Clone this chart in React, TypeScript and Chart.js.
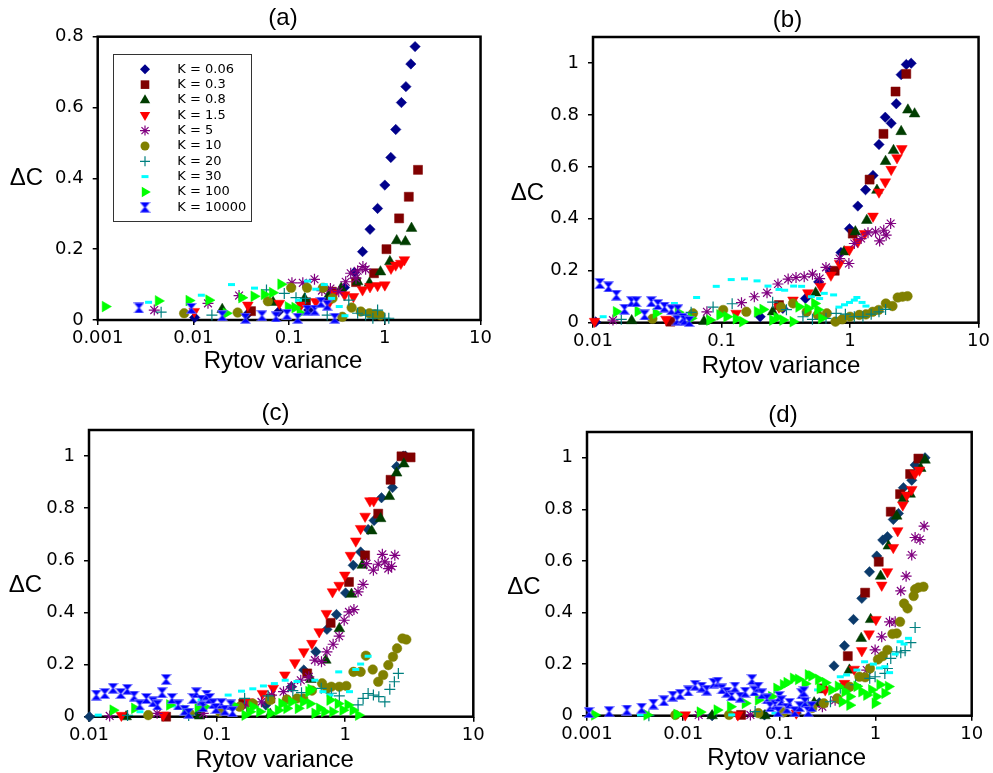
import React, { useEffect, useRef } from 'react';
import { Chart, registerables } from 'chart.js';

Chart.register(...registerables);

// ---------- labels ----------
const K_LABELS = ['K = 0.06', 'K = 0.3', 'K = 0.8', 'K = 1.5', 'K = 5', 'K = 10', 'K = 20', 'K = 30', 'K = 100', 'K = 10000'];
const X_TICKS_3 = [0.001, 0.01, 0.1, 1, 10];
const X_LABELS_3 = ['0.001', '0.01', '0.1', '1', '10'];
const X_TICKS_2 = [0.01, 0.1, 1, 10];
const X_LABELS_2 = ['0.01', '0.1', '1', '10'];
const Y_TICKS_A = [0, 0.2, 0.4, 0.6, 0.8];
const Y_LABELS_A = ['0', '0.2', '0.4', '0.6', '0.8'];
const Y_TICKS_B = [0, 0.2, 0.4, 0.6, 0.8, 1];
const Y_LABELS_B = ['0', '0.2', '0.4', '0.6', '0.8', '1'];

// ---------- panel (a) ----------
const aX_K006 = [0.0103, 0.036, 0.078, 0.16, 0.26, 0.38, 0.48, 0.585, 0.70, 0.84, 1.0, 1.155, 1.30, 1.49, 1.66, 1.87, 2.07];
const aY_K006 = [0.007, 0.014, 0.024, 0.028, 0.06, 0.092, 0.134, 0.193, 0.256, 0.315, 0.381, 0.459, 0.538, 0.614, 0.659, 0.723, 0.772];
const aX_K03 = [0.04, 0.15, 0.28, 0.5, 0.77, 1.04, 1.41, 1.78, 2.22];
const aY_K03 = [0.025, 0.05, 0.08, 0.107, 0.132, 0.2, 0.287, 0.348, 0.424];
const aX_K08 = [0.02, 0.068, 0.145, 0.26, 0.35, 0.52, 0.69, 0.9, 1.13, 1.33, 1.64, 1.9];
const aY_K08 = [0.03, 0.05, 0.06, 0.07, 0.09, 0.108, 0.104, 0.136, 0.165, 0.224, 0.221, 0.259];
const aX_K15 = [0.0102, 0.037, 0.079, 0.133, 0.19, 0.26, 0.30, 0.38, 0.47, 0.585, 0.70, 0.84, 1.0, 1.16, 1.3, 1.47, 1.6];
const aY_K15 = [0.024, 0.042, 0.047, 0.042, 0.052, 0.047, 0.075, 0.071, 0.066, 0.085, 0.094, 0.097, 0.099, 0.146, 0.155, 0.16, 0.17];
const aX_K5 = [0.0039, 0.0142, 0.030, 0.107, 0.139, 0.184, 0.22, 0.27, 0.33, 0.39, 0.44, 0.50, 0.52, 0.59, 0.63];
const aY_K5 = [0.028, 0.047, 0.069, 0.105, 0.105, 0.115, 0.083, 0.089, 0.08, 0.108, 0.132, 0.118, 0.139, 0.151, 0.143];
const aX_K10 = [0.008, 0.029, 0.06, 0.105, 0.154, 0.226, 0.284, 0.36, 0.45, 0.56, 0.69, 0.79, 0.9];
const aY_K10 = [0.019, 0.021, 0.053, 0.091, 0.091, 0.091, 0.061, 0.009, 0.035, 0.024, 0.019, 0.016, 0.013];
const aX_K20 = [0.0046, 0.0156, 0.058, 0.089, 0.118, 0.148, 0.25, 0.42, 0.52, 0.63, 0.75, 0.84, 1.0, 1.1];
const aY_K20 = [0.022, 0.014, 0.085, 0.075, 0.063, 0.061, 0.014, 0.056, 0.019, 0.014, 0.005, 0.028, 0.005, 0.005];
const aX_K30 = [0.0034, 0.0121, 0.025, 0.0435, 0.125, 0.156, 0.19, 0.233, 0.278, 0.334, 0.383];
const aY_K30 = [0.05, 0.07, 0.10, 0.09, 0.056, 0.11, 0.087, 0.10, 0.061, 0.038, 0.012];
const aX_K100 = [0.0012, 0.0043, 0.009, 0.0145, 0.022, 0.032, 0.043, 0.055, 0.067, 0.082, 0.098, 0.115, 0.13];
const aY_K100 = [0.038, 0.054, 0.055, 0.056, 0.019, 0.063, 0.067, 0.072, 0.077, 0.101, 0.037, 0.035, 0.02];
const aX_K10000 = [0.0027, 0.0095, 0.02, 0.035, 0.052, 0.073, 0.095, 0.123, 0.155, 0.185, 0.215, 0.25, 0.3];
const aY_K10000 = [0.034, 0.033, 0.012, 0.005, 0.012, 0.009, 0.016, 0.005, 0.028, 0.028, 0.05, 0.042, 0.005];

// ---------- panel (b) ----------
const bX_K006 = [0.0105, 0.2, 0.3, 0.45, 0.57, 0.7, 0.85, 0.99, 1.15, 1.32, 1.51, 1.68, 1.88, 2.09, 2.29, 2.5, 2.74, 2.99];
const bY_K006 = [0.003, 0.023, 0.055, 0.093, 0.157, 0.2, 0.27, 0.362, 0.449, 0.512, 0.567, 0.686, 0.791, 0.768, 0.843, 0.955, 0.994, 0.999];
const bX_K03 = [0.04, 0.28, 0.76, 1.05, 1.42, 1.82, 2.26, 2.74];
const bY_K03 = [0.004, 0.068, 0.2, 0.343, 0.551, 0.727, 0.89, 0.958];
const bX_K08 = [0.02, 0.073, 0.25, 0.54, 0.9, 1.1, 1.35, 1.62, 1.89, 2.18, 2.5, 2.82, 3.18];
const bY_K08 = [0.008, 0.005, 0.042, 0.115, 0.273, 0.35, 0.394, 0.51, 0.621, 0.663, 0.736, 0.819, 0.804];
const bX_K15 = [0.0103, 0.037, 0.13, 0.28, 0.36, 0.47, 0.59, 0.71, 0.83, 0.99, 1.15, 1.3, 1.51, 1.68, 1.88, 2.09, 2.32, 2.53];
const bY_K15 = [0.005, 0.013, 0.036, 0.06, 0.087, 0.115, 0.14, 0.183, 0.228, 0.282, 0.311, 0.343, 0.41, 0.503, 0.542, 0.59, 0.635, 0.67];
const bX_K5 = [0.0143, 0.077, 0.143, 0.18, 0.226, 0.275, 0.33, 0.38, 0.44, 0.51, 0.58, 0.65, 0.83, 0.98, 1.08, 1.22, 1.38, 1.58, 1.7, 1.83, 1.91, 2.07];
const bY_K5 = [0.01, 0.042, 0.077, 0.1, 0.115, 0.149, 0.168, 0.174, 0.177, 0.187, 0.17, 0.213, 0.247, 0.228, 0.305, 0.324, 0.346, 0.35, 0.315, 0.356, 0.337, 0.382];
const bX_K10 = [0.029, 0.06, 0.103, 0.156, 0.29, 0.36, 0.46, 0.56, 0.66, 0.77, 0.87, 1.0, 1.18, 1.33, 1.5, 1.67, 1.9, 2.14, 2.35, 2.56, 2.8];
const bY_K10 = [0.015, 0.036, 0.049, 0.042, 0.06, 0.074, 0.042, 0.03, 0.036, 0.004, 0.013, 0.023, 0.03, 0.032, 0.042, 0.049, 0.074, 0.064, 0.097, 0.1, 0.102];
const bX_K20 = [0.0166, 0.058, 0.086, 0.121, 0.25, 0.32, 0.43, 0.51, 0.65, 0.78, 0.92, 1.08, 1.26, 1.46, 1.68, 1.89];
const bY_K20 = [0.013, 0.04, 0.06, 0.073, 0.079, 0.05, 0.023, 0.013, 0.017, 0.036, 0.033, 0.023, 0.023, 0.033, 0.042, 0.051];
const bX_K30 = [0.012, 0.043, 0.064, 0.091, 0.119, 0.151, 0.189, 0.23, 0.28, 0.31, 0.364, 0.42, 0.5, 0.58, 0.63, 0.745, 0.82, 0.906, 0.99, 1.08, 1.13, 1.24, 1.33];
const bY_K30 = [0.023, 0.074, 0.097, 0.14, 0.166, 0.169, 0.161, 0.141, 0.128, 0.125, 0.141, 0.14, 0.1, 0.093, 0.113, 0.107, 0.06, 0.069, 0.078, 0.087, 0.097, 0.078, 0.064];
const bX_K100 = [0.0152, 0.0224, 0.031, 0.046, 0.058, 0.081, 0.097, 0.11, 0.13, 0.146, 0.19, 0.21, 0.25, 0.27, 0.3, 0.36, 0.4, 0.47, 0.53, 0.56, 0.6];
const bY_K100 = [0.042, 0.044, 0.036, 0.04, 0.017, 0.01, 0.03, 0.023, 0.015, 0.004, 0.042, 0.051, 0.01, 0.02, 0.01, 0.004, 0.061, 0.055, 0.074, 0.05, 0.017];
const bX_K10000 = [0.0113, 0.0132, 0.0152, 0.0176, 0.0199, 0.0217, 0.0252, 0.0284, 0.032, 0.036, 0.0407, 0.045, 0.0458, 0.05, 0.0516, 0.056];
const bY_K10000 = [0.151, 0.138, 0.106, 0.052, 0.081, 0.081, 0.03, 0.081, 0.07, 0.06, 0.05, 0.01, 0.05, 0.017, 0.01, 0.005];

// ---------- panel (c) ----------
const cX_K006 = [0.0101, 0.072, 0.24, 0.38, 0.475, 0.59, 0.72, 0.855, 1.007, 1.155, 1.32, 1.51, 1.68, 1.92, 2.34, 2.52, 2.84, 2.95];
const cY_K006 = [0.0, 0.012, 0.045, 0.115, 0.179, 0.249, 0.335, 0.392, 0.475, 0.581, 0.632, 0.718, 0.753, 0.84, 0.879, 0.96, 1.0, 1.0];
const cX_K03 = [0.04, 0.16, 0.26, 0.505, 0.77, 1.07, 1.43, 1.81, 2.26, 2.75, 3.24];
const cY_K03 = [0.0, 0.05, 0.07, 0.166, 0.36, 0.517, 0.619, 0.779, 0.909, 0.999, 0.995];
const cX_K08 = [0.0195, 0.073, 0.26, 0.54, 0.706, 0.9, 1.12, 1.36, 1.61, 1.89, 2.21, 2.52, 2.87];
const cY_K08 = [0.0, 0.003, 0.01, 0.143, 0.217, 0.338, 0.47, 0.581, 0.713, 0.76, 0.845, 0.935, 0.97];
const cX_K15 = [0.0179, 0.038, 0.175, 0.226, 0.274, 0.338, 0.405, 0.475, 0.55, 0.627, 0.714, 0.796, 0.897, 0.993, 1.10, 1.21, 1.32, 1.43, 1.56, 1.67];
const cY_K15 = [0.005, 0.006, 0.057, 0.089, 0.109, 0.16, 0.207, 0.249, 0.281, 0.326, 0.396, 0.479, 0.504, 0.543, 0.619, 0.674, 0.722, 0.769, 0.828, 0.828];
const cX_K5 = [0.0145, 0.034, 0.078, 0.17, 0.222, 0.266, 0.33, 0.38, 0.45, 0.52, 0.58, 0.653, 0.72, 0.805, 0.897, 0.982, 1.07, 1.17, 1.26, 1.38, 1.47, 1.66, 1.81, 1.95, 2.04, 2.17, 2.3, 2.44];
const cY_K5 = [0.003, 0.013, 0.013, 0.04, 0.057, 0.083, 0.096, 0.115, 0.14, 0.153, 0.217, 0.211, 0.249, 0.278, 0.309, 0.37, 0.402, 0.411, 0.479, 0.508, 0.587, 0.562, 0.585, 0.623, 0.594, 0.568, 0.577, 0.619];
const cX_K10 = [0.029, 0.061, 0.105, 0.15, 0.19, 0.26, 0.35, 0.42, 0.47, 0.55, 0.66, 0.72, 0.78, 0.9, 1.02, 1.16, 1.32, 1.45, 1.64, 1.81, 1.98, 2.17, 2.36, 2.54, 2.8, 3.0];
const cY_K10 = [0.006, 0.013, 0.019, 0.038, 0.05, 0.064, 0.066, 0.07, 0.07, 0.1, 0.128, 0.108, 0.115, 0.115, 0.118, 0.172, 0.172, 0.234, 0.181, 0.134, 0.16, 0.198, 0.23, 0.262, 0.3, 0.296];
const cX_K20 = [0.02, 0.06, 0.164, 0.25, 0.39, 0.456, 0.65, 0.78, 0.9, 1.26, 1.38, 1.51, 1.66, 1.83, 2.04, 2.23, 2.42, 2.6];
const cY_K20 = [0.005, 0.005, 0.07, 0.08, 0.1, 0.092, 0.109, 0.09, 0.08, 0.045, 0.07, 0.089, 0.083, 0.077, 0.057, 0.105, 0.134, 0.166];
const cX_K30 = [0.0118, 0.025, 0.045, 0.075, 0.122, 0.155, 0.19, 0.23, 0.28, 0.34, 0.42, 0.58, 0.67, 0.76, 0.89, 1.08, 1.21, 1.32, 1.51];
const cY_K30 = [0.006, 0.019, 0.041, 0.064, 0.083, 0.098, 0.107, 0.118, 0.127, 0.14, 0.135, 0.14, 0.096, 0.083, 0.172, 0.096, 0.181, 0.202, 0.232];
const cX_K100 = [0.0154, 0.0227, 0.0426, 0.057, 0.071, 0.08, 0.133, 0.165, 0.18, 0.19, 0.215, 0.26, 0.3, 0.32, 0.35, 0.38, 0.43, 0.47, 0.52, 0.53, 0.54, 0.58, 0.63, 0.69, 0.76, 0.8, 0.88, 0.96, 1.05, 1.15, 1.27];
const cY_K100 = [0.025, 0.032, 0.045, 0.025, 0.038, 0.038, 0.045, 0.006, 0.019, 0.038, 0.019, 0.013, 0.025, 0.05, 0.032, 0.057, 0.032, 0.057, 0.096, 0.05, 0.105, 0.013, 0.032, 0.019, 0.064, 0.019, 0.05, 0.025, 0.045, 0.025, 0.006];
const cX_K10000 = [0.0114, 0.0133, 0.0154, 0.0177, 0.0199, 0.0225, 0.0249, 0.028, 0.0316, 0.0342, 0.0372, 0.04, 0.0445, 0.0496, 0.0558, 0.06, 0.0648, 0.0688, 0.0755, 0.0776, 0.0826, 0.0876, 0.093, 0.098, 0.108, 0.115, 0.128, 0.132];
const cY_K10000 = [0.083, 0.089, 0.109, 0.089, 0.105, 0.079, 0.045, 0.07, 0.057, 0.045, 0.092, 0.143, 0.07, 0.045, 0.025, 0.013, 0.07, 0.092, 0.064, 0.038, 0.083, 0.07, 0.05, 0.032, 0.05, 0.025, 0.045, 0.019];

// ---------- panel (d) ----------
const dX_K006 = [0.02, 0.07, 0.15, 0.26, 0.37, 0.475, 0.59, 0.72, 0.865, 1.03, 1.19, 1.33, 1.53, 1.73, 1.95, 2.38, 2.58, 3.27];
const dY_K006 = [0.0, 0.003, 0.01, 0.05, 0.193, 0.271, 0.373, 0.455, 0.558, 0.619, 0.681, 0.694, 0.761, 0.784, 0.884, 0.913, 0.972, 1.0];
const dX_K03 = [0.04, 0.28, 0.515, 0.78, 1.08, 1.44, 1.8, 2.29, 2.79];
const dY_K03 = [0.003, 0.106, 0.231, 0.477, 0.597, 0.791, 0.859, 0.937, 0.997];
const dX_K08 = [0.02, 0.071, 0.23, 0.535, 0.71, 0.89, 1.13, 1.36, 1.66, 1.95, 2.29, 2.95, 3.27];
const dY_K08 = [0.0, 0.0, 0.05, 0.177, 0.3, 0.373, 0.541, 0.658, 0.774, 0.842, 0.859, 0.959, 0.991];
const dX_K15 = [0.0105, 0.037, 0.15, 0.3, 0.475, 0.6, 0.72, 0.857, 1.01, 1.16, 1.33, 1.53, 1.7, 1.92, 2.11, 2.38, 2.58, 2.86];
const dY_K15 = [0.003, 0.003, 0.01, 0.1, 0.125, 0.18, 0.252, 0.317, 0.373, 0.506, 0.558, 0.652, 0.717, 0.817, 0.855, 0.877, 0.939, 0.952];
const dX_K5 = [0.0145, 0.05, 0.28, 0.38, 0.81, 0.99, 1.16, 1.4, 1.6, 1.83, 2.08, 2.38, 2.58, 2.9, 3.2];
const dY_K5 = [0.003, 0.003, 0.035, 0.06, 0.177, 0.255, 0.306, 0.364, 0.364, 0.484, 0.541, 0.623, 0.691, 0.683, 0.735];
const dX_K10 = [0.0083, 0.03, 0.0605, 0.11, 0.22, 0.29, 0.4, 0.54, 0.68, 0.78, 0.875, 1.06, 1.19, 1.33, 1.5, 1.66, 1.8, 1.98, 2.15, 2.49, 2.58, 2.79, 3.15];
const dY_K10 = [0.003, 0.003, 0.01, 0.013, 0.03, 0.048, 0.067, 0.112, 0.151, 0.149, 0.183, 0.218, 0.231, 0.255, 0.317, 0.319, 0.364, 0.435, 0.416, 0.464, 0.49, 0.497, 0.5];
const dX_K20 = [0.0044, 0.056, 0.2, 0.34, 0.43, 0.62, 0.87, 0.99, 1.25, 1.33, 1.44, 1.66, 1.83, 2.03, 2.33, 2.58];
const dY_K20 = [0.0, 0.016, 0.05, 0.054, 0.106, 0.12, 0.145, 0.151, 0.164, 0.183, 0.222, 0.248, 0.244, 0.252, 0.283, 0.342];
const dX_K30 = [0.0036, 0.032, 0.09, 0.17, 0.25, 0.43, 0.5, 0.64, 0.77, 0.95, 1.1, 1.25, 1.4, 1.6, 1.8, 1.98, 2.2];
const dY_K30 = [0.003, 0.003, 0.01, 0.04, 0.1, 0.151, 0.158, 0.177, 0.209, 0.2, 0.185, 0.19, 0.167, 0.239, 0.287, 0.278, 0.3];
const dX_K100 = [0.0012, 0.0042, 0.0086, 0.015, 0.0225, 0.031, 0.0441, 0.0605, 0.083, 0.094, 0.11, 0.12, 0.14, 0.158, 0.185, 0.2, 0.217, 0.255, 0.265, 0.3, 0.35, 0.41, 0.45, 0.48, 0.54, 0.54, 0.64, 0.72, 0.81, 0.91, 0.99, 1.02, 1.11, 1.25, 1.36];
const dY_K100 = [0.003, 0.003, 0.005, 0.014, 0.022, 0.035, 0.048, 0.061, 0.074, 0.106, 0.12, 0.128, 0.145, 0.141, 0.124, 0.158, 0.154, 0.141, 0.106, 0.128, 0.1, 0.114, 0.054, 0.093, 0.074, 0.041, 0.114, 0.093, 0.08, 0.1, 0.048, 0.074, 0.12, 0.087, 0.113];
const dX_K10000 = [0.00105, 0.0017, 0.0026, 0.0037, 0.0049, 0.0063, 0.0078, 0.0093, 0.0113, 0.0133, 0.0156, 0.0176, 0.0207, 0.0229, 0.0253, 0.0284, 0.0319, 0.0345, 0.0391, 0.0441, 0.0519, 0.055, 0.0605, 0.066, 0.0742, 0.08, 0.09, 0.097, 0.1, 0.105, 0.12, 0.128, 0.145, 0.163, 0.17, 0.18, 0.185, 0.2, 0.217];
const dY_K10000 = [0.012, 0.016, 0.022, 0.029, 0.045, 0.058, 0.076, 0.083, 0.096, 0.118, 0.111, 0.099, 0.126, 0.13, 0.104, 0.091, 0.078, 0.111, 0.072, 0.091, 0.14, 0.096, 0.111, 0.085, 0.065, 0.035, 0.042, 0.016, 0.074, 0.058, 0.029, 0.048, 0.016, 0.035, 0.085, 0.093, 0.052, 0.016, 0.035];

// ---------- styles ----------
const COLORS_AB = ['#00008b', '#800000', '#003d00', '#ff0000', '#800080', '#808000', '#008080', '#00ffff', '#00ff00', '#0000ff'];
const COLORS_CD = ['#0b3a6b', '#800000', '#003d00', '#ff0000', '#800080', '#808000', '#008080', '#00ffff', '#00ff00', '#0000ff'];
const MARKERS = [
  { ps: 'rectRot', r: 5.2, rot: 0, bw: 0.5 },
  { ps: 'rect', r: 6.4, rot: 0, bw: 0.5 },
  { ps: 'triangle', r: 6.2, rot: 0, bw: 0.5 },
  { ps: 'triangle', r: 6.2, rot: 180, bw: 0.5 },
  { ps: 'star', r: 5.5, rot: 0, bw: 1.2 },
  { ps: 'circle', r: 4.8, rot: 0, bw: 0.5 },
  { ps: 'cross', r: 5.5, rot: 0, bw: 1.2 },
  { ps: 'line', r: 3.5, rot: 0, bw: 3 },
  { ps: 'triangle', r: 6.2, rot: 90, bw: 0.5 },
  { ps: 'hourglass', r: 5.5, rot: 0, bw: 0 },
];

let hourglassImg: HTMLCanvasElement | null = null;
function getHourglass(): HTMLCanvasElement {
  if (hourglassImg) return hourglassImg;
  const c = document.createElement('canvas');
  c.width = 11;
  c.height = 11;
  const g = c.getContext('2d')!;
  g.fillStyle = '#0000ff';
  g.strokeStyle = 'rgba(120,120,255,0.7)';
  g.lineWidth = 1;
  g.beginPath();
  g.moveTo(0.5, 0.5);
  g.lineTo(10.5, 0.5);
  g.lineTo(6.2, 5.5);
  g.lineTo(10.5, 10.5);
  g.lineTo(0.5, 10.5);
  g.lineTo(4.8, 5.5);
  g.closePath();
  g.fill();
  g.stroke();
  hourglassImg = c;
  return c;
}

function drawLegendMarker(ctx: CanvasRenderingContext2D, i: number, x: number, y: number, color: string) {
  ctx.save();
  ctx.fillStyle = color;
  ctx.strokeStyle = color;
  ctx.lineWidth = 1.2;
  ctx.beginPath();
  const r = 5;
  switch (i) {
    case 0:
      ctx.moveTo(x, y - r); ctx.lineTo(x + r, y); ctx.lineTo(x, y + r); ctx.lineTo(x - r, y); ctx.closePath(); ctx.fill();
      break;
    case 1:
      ctx.rect(x - 4.3, y - 4.3, 8.6, 8.6); ctx.fill();
      break;
    case 2:
      ctx.moveTo(x, y - 5.8); ctx.lineTo(x + 5.2, y + 3.2); ctx.lineTo(x - 5.2, y + 3.2); ctx.closePath(); ctx.fill();
      break;
    case 3:
      ctx.moveTo(x, y + 5.8); ctx.lineTo(x + 5.2, y - 3.2); ctx.lineTo(x - 5.2, y - 3.2); ctx.closePath(); ctx.fill();
      break;
    case 4:
      for (let k = 0; k < 4; k++) {
        const a = (k * Math.PI) / 4;
        ctx.moveTo(x - Math.cos(a) * r, y - Math.sin(a) * r);
        ctx.lineTo(x + Math.cos(a) * r, y + Math.sin(a) * r);
      }
      ctx.stroke();
      break;
    case 5:
      ctx.arc(x, y, 4.5, 0, Math.PI * 2); ctx.fill();
      break;
    case 6:
      ctx.moveTo(x - r, y); ctx.lineTo(x + r, y); ctx.moveTo(x, y - r); ctx.lineTo(x, y + r); ctx.stroke();
      break;
    case 7:
      ctx.lineWidth = 3; ctx.moveTo(x - 3.5, y); ctx.lineTo(x + 3.5, y); ctx.stroke();
      break;
    case 8:
      ctx.moveTo(x + 5.8, y); ctx.lineTo(x - 3.2, y - 5.2); ctx.lineTo(x - 3.2, y + 5.2); ctx.closePath(); ctx.fill();
      break;
    case 9: {
      const img = getHourglass();
      ctx.drawImage(img, x - img.width / 2, y - img.height / 2);
      break;
    }
  }
  ctx.restore();
}

type PanelCfg = {
  left: number; top: number; w: number; h: number;
  plot: { l: number; r: number; t: number; b: number };
  xMin: number; xMax: number; xTicks: number[]; xLabels: string[];
  yMax: number; yTicks: number[]; yLabels: string[];
  xs: number[][]; ys: number[][];
  colors: string[];
  title: string; titlePos: [number, number];
  xLabelPos: [number, number]; yLabelPos: [number, number];
  legend: boolean;
};

const PANELS: PanelCfg[] = [
  {
    left: 0, top: 0, w: 495, h: 390,
    plot: { l: 97.7, r: 481.7, t: 36.7, b: 320 },
    xMin: 0.001, xMax: 10, xTicks: X_TICKS_3, xLabels: X_LABELS_3,
    yMax: 0.8, yTicks: Y_TICKS_A, yLabels: Y_LABELS_A,
    xs: [aX_K006, aX_K03, aX_K08, aX_K15, aX_K5, aX_K10, aX_K20, aX_K30, aX_K100, aX_K10000],
    ys: [aY_K006, aY_K03, aY_K08, aY_K15, aY_K5, aY_K10, aY_K20, aY_K30, aY_K100, aY_K10000],
    colors: COLORS_AB,
    title: '(a)', titlePos: [283, 18], xLabelPos: [283, 361], yLabelPos: [26.5, 178], legend: true,
  },
  {
    left: 495, top: 0, w: 498, h: 390,
    plot: { l: 593, r: 979, t: 37, b: 322.7 },
    xMin: 0.01, xMax: 10, xTicks: X_TICKS_2, xLabels: X_LABELS_2,
    yMax: 1.1, yTicks: Y_TICKS_B, yLabels: Y_LABELS_B,
    xs: [bX_K006, bX_K03, bX_K08, bX_K15, bX_K5, bX_K10, bX_K20, bX_K30, bX_K100, bX_K10000],
    ys: [bY_K006, bY_K03, bY_K08, bY_K15, bY_K5, bY_K10, bY_K20, bY_K30, bY_K100, bY_K10000],
    colors: COLORS_AB,
    title: '(b)', titlePos: [787.5, 20], xLabelPos: [781, 366], yLabelPos: [527.5, 193.5], legend: false,
  },
  {
    left: 0, top: 390, w: 495, h: 383,
    plot: { l: 89, r: 473.3, t: 430, b: 716.7 },
    xMin: 0.01, xMax: 10, xTicks: X_TICKS_2, xLabels: X_LABELS_2,
    yMax: 1.1, yTicks: Y_TICKS_B, yLabels: Y_LABELS_B,
    xs: [cX_K006, cX_K03, cX_K08, cX_K15, cX_K5, cX_K10, cX_K20, cX_K30, cX_K100, cX_K10000],
    ys: [cY_K006, cY_K03, cY_K08, cY_K15, cY_K5, cY_K10, cY_K20, cY_K30, cY_K100, cY_K10000],
    colors: COLORS_CD,
    title: '(c)', titlePos: [275.5, 413], xLabelPos: [274.5, 760], yLabelPos: [25.5, 585], legend: false,
  },
  {
    left: 495, top: 390, w: 498, h: 383,
    plot: { l: 587, r: 971.7, t: 432, b: 715.7 },
    xMin: 0.001, xMax: 10, xTicks: X_TICKS_3, xLabels: X_LABELS_3,
    yMax: 1.1, yTicks: Y_TICKS_B, yLabels: Y_LABELS_B,
    xs: [dX_K006, dX_K03, dX_K08, dX_K15, dX_K5, dX_K10, dX_K20, dX_K30, dX_K100, dX_K10000],
    ys: [dY_K006, dY_K03, dY_K08, dY_K15, dY_K5, dY_K10, dY_K20, dY_K30, dY_K100, dY_K10000],
    colors: COLORS_CD,
    title: '(d)', titlePos: [783, 415], xLabelPos: [786.7, 758], yLabelPos: [524, 587.5], legend: false,
  },
];

const TICK_FONT = { family: '"DejaVu Sans", sans-serif', size: 18 };
const LABEL_FONT = '24px "Liberation Sans", Arial, sans-serif';

function Panel({ cfg }: { cfg: PanelCfg }) {
  const ref = useRef<HTMLCanvasElement>(null);
  useEffect(() => {
    const canvas = ref.current;
    if (!canvas) return;
    const hg = getHourglass();
    const datasets = cfg.xs.map((xs, i) => {
      const m = MARKERS[i];
      const color = cfg.colors[i];
      const n = Math.min(xs.length, cfg.ys[i].length);
      const data = [] as { x: number; y: number }[];
      for (let j = 0; j < n; j++) data.push({ x: xs[j], y: cfg.ys[i][j] });
      return {
        label: K_LABELS[i],
        data,
        showLine: false,
        pointStyle: m.ps === 'hourglass' ? hg : m.ps,
        pointRadius: m.r,
        pointHoverRadius: m.r,
        pointRotation: m.rot,
        pointBackgroundColor: color,
        pointBorderColor: color,
        pointBorderWidth: m.bw,
        backgroundColor: color,
        borderColor: color,
        order: 9 - i,
        clip: false as any,
      };
    });

    const offX = cfg.left;
    const offY = cfg.top;
    const overlay = {
      id: 'overlay',
      beforeDatasetsDraw(chart: any) {
        const { ctx, chartArea: ca } = chart;
        ctx.save();
        ctx.strokeStyle = '#000';
        ctx.lineWidth = 2.5;
        ctx.strokeRect(ca.left, ca.top, ca.right - ca.left, ca.bottom - ca.top);
        ctx.restore();
      },
      afterDraw(chart: any) {
        const ctx = chart.ctx as CanvasRenderingContext2D;
        ctx.save();
        ctx.fillStyle = '#000';
        ctx.font = LABEL_FONT;
        ctx.textAlign = 'center';
        ctx.textBaseline = 'middle';
        ctx.fillText(cfg.title, cfg.titlePos[0] - offX, cfg.titlePos[1] - offY);
        ctx.fillText('Rytov variance', cfg.xLabelPos[0] - offX, cfg.xLabelPos[1] - offY);
        ctx.fillText('ΔC', cfg.yLabelPos[0] - offX, cfg.yLabelPos[1] - offY);
        if (cfg.legend) {
          ctx.fillStyle = '#fff';
          ctx.fillRect(113.5 - offX, 54.5 - offY, 138, 167);
          ctx.strokeStyle = '#333';
          ctx.lineWidth = 1;
          ctx.strokeRect(113.5 - offX, 54.5 - offY, 138, 167);
          ctx.font = '13px "DejaVu Sans", sans-serif';
          ctx.textAlign = 'left';
          ctx.textBaseline = 'middle';
          for (let i = 0; i < K_LABELS.length; i++) {
            const yy = 69.3 + i * 15.33 - offY;
            drawLegendMarker(ctx, i, 145 - offX, yy, cfg.colors[i]);
            ctx.fillStyle = '#000';
            ctx.fillText(K_LABELS[i], 177.3 - offX, yy);
          }
        }
        ctx.restore();
      },
    };

    const yAxisW = cfg.plot.l - cfg.left;
    const xAxisH = cfg.top + cfg.h - cfg.plot.b;
    const chart = new Chart(canvas, {
      type: 'scatter',
      data: { datasets: datasets as any },
      options: {
        responsive: false,
        animation: false,
        events: [],
        layout: {
          padding: {
            top: cfg.plot.t - cfg.top,
            right: cfg.left + cfg.w - cfg.plot.r,
            left: 0,
            bottom: 0,
          },
        },
        plugins: {
          legend: { display: false },
          tooltip: { enabled: false },
          title: { display: false },
        },
        scales: {
          x: {
            type: 'logarithmic',
            min: cfg.xMin,
            max: cfg.xMax,
            afterBuildTicks: (s: any) => {
              s.ticks = cfg.xTicks.map((v) => ({ value: v }));
            },
            afterFit: (s: any) => {
              s.height = xAxisH;
            },
            ticks: {
              autoSkip: false,
              maxRotation: 0,
              minRotation: 0,
              color: '#000',
              font: TICK_FONT,
              padding: 3,
              callback: (_v: any, i: number) => cfg.xLabels[i],
            },
            grid: {
              display: true,
              drawOnChartArea: false,
              drawTicks: true,
              tickLength: 5,
              color: '#000',
              lineWidth: 1.5,
            },
            border: { display: false },
          },
          y: {
            type: 'linear',
            min: 0,
            max: cfg.yMax,
            afterBuildTicks: (s: any) => {
              s.ticks = cfg.yTicks.map((v) => ({ value: v }));
            },
            afterFit: (s: any) => {
              s.width = yAxisW;
            },
            ticks: {
              color: '#000',
              font: TICK_FONT,
              padding: 9,
              callback: (_v: any, i: number) => cfg.yLabels[i],
            },
            grid: {
              display: true,
              drawOnChartArea: false,
              drawTicks: true,
              tickLength: 5,
              color: '#000',
              lineWidth: 1.5,
            },
            border: { display: false },
          },
        },
      } as any,
      plugins: [overlay],
    });
    return () => chart.destroy();
  }, [cfg]);

  return (
    <canvas
      ref={ref}
      width={cfg.w}
      height={cfg.h}
      style={{ position: 'absolute', left: cfg.left, top: cfg.top, width: cfg.w, height: cfg.h }}
    />
  );
}

export default function App() {
  return (
    <div style={{ position: 'fixed', left: 0, top: 0, width: 993, height: 773, background: '#fff', overflow: 'hidden' }}>
      {PANELS.map((p, i) => (
        <Panel key={i} cfg={p} />
      ))}
    </div>
  );
}
